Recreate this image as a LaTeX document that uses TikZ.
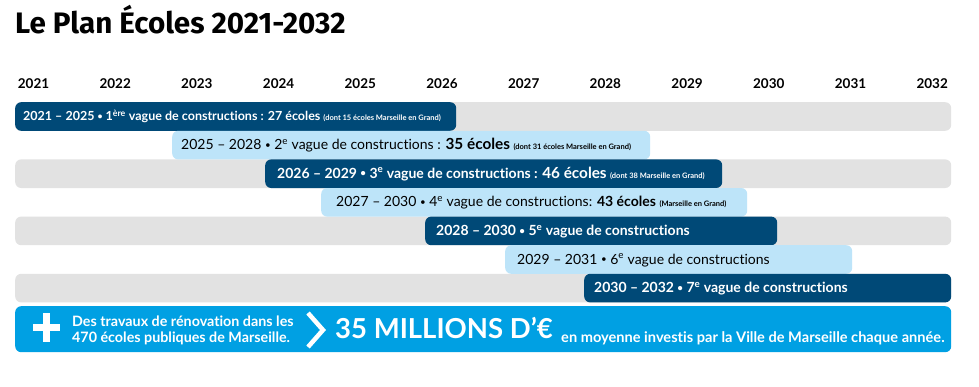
\documentclass[tikz,border=0pt]{standalone}
\usepackage{fontspec}
\usepackage{graphicx}
\setmainfont{Lato}[Ligatures=NoCommon]
\newfontfamily\titlefont{Fira Sans}
\usetikzlibrary{calc}
\definecolor{navy}{RGB}{0,73,119}
\definecolor{lightb}{RGB}{189,228,249}
\definecolor{grayrow}{RGB}{226,226,226}
\definecolor{cyanb}{RGB}{0,160,227}
\newcommand{\smallnote}[1]{{\fontsize{7.5}{8}\selectfont\bfseries #1}}
\newcommand{\bul}{\raisebox{0.09em}{\scalebox{0.7}{•}}}
\newcommand{\bignum}[1]{{\fontsize{15.3}{16}\selectfont\bfseries #1}}
\begin{document}
\begin{tikzpicture}[x=1pt,y=-1pt,
  bar/.style={rectangle, rounded corners=6pt, minimum height=28.6pt, inner sep=0pt, anchor=north west},
  grayb/.style={bar, fill=grayrow},
  darkb/.style={bar, fill=navy},
  lightbb/.style={bar, fill=lightb},
  year/.style={font=\bfseries\fontsize{13.5}{14}\selectfont, anchor=base, inner sep=0pt},
  dtext/.style={text=white, anchor=base west, inner sep=0pt, font=\bfseries\fontsize{14}{15}\selectfont},
  ltext/.style={text=black, anchor=base west, inner sep=0pt, font=\fontsize{14}{15}\selectfont},
  wtext/.style={text=white, anchor=base west, inner sep=0pt, font=\bfseries\fontsize{14.3}{15}\selectfont},
]
\useasboundingbox (0,0) rectangle (979,386);
\fill[white] (0,0) rectangle (979,386);

\node[anchor=base west, inner sep=0pt, font=\titlefont\bfseries\fontsize{29.6}{31}\selectfont] (title) at (15,33) {Le Plan Écoles 2021-2032};

\foreach \i in {0,...,11} {
  \pgfmathtruncatemacro\yr{2021+\i}
  \node[year] (y\yr) at (33.5+81.7*\i, 88) {\yr};
}

% gray rows
\node[grayb, minimum width=936pt] (g1) at (15,102) {};
\node[grayb, minimum width=936pt] (g3) at (15,159.2) {};
\node[grayb, minimum width=936pt] (g5) at (15,216.4) {};
\node[grayb, minimum width=936pt] (g7) at (15,273.6) {};

% bars
\node[darkb, minimum width=441pt] (b1) at (15,102) {};
\node[lightbb, minimum width=478pt] (b2) at (172,130.6) {};
\node[darkb, minimum width=457pt] (b3) at (265,159.2) {};
\node[lightbb, minimum width=426pt] (b4) at (321,187.8) {};
\node[darkb, minimum width=352pt] (b5) at (425,216.4) {};
\node[lightbb, minimum width=347pt] (b6) at (505,245) {};
\node[darkb, minimum width=367pt] (b7) at (584,273.6) {};

\node[dtext, font=\bfseries\fontsize{12.5}{13}\selectfont] (t1) at ($(b1.west)+(8,4)$) {2021 – 2025 \bul{} 1\textsuperscript{ère} vague de constructions : 27 écoles \smallnote{(dont 15 écoles Marseille en Grand)}};
\node[ltext] (t2) at ($(b2.west)+(9,4.5)$) {2025 – 2028 \bul{} 2\textsuperscript{e} vague de constructions : \bignum{35 écoles} \smallnote{(dont 31 écoles Marseille en Grand)}};
\node[dtext] (t3) at ($(b3.west)+(12,4.5)$) {2026 – 2029 \bul{} 3\textsuperscript{e} vague de constructions : \bignum{46 écoles} \smallnote{(dont 38 Marseille en Grand)}};
\node[ltext] (t4) at ($(b4.west)+(15,4.5)$) {2027 – 2030 \bul{} 4\textsuperscript{e} vague de constructions: \textbf{43 écoles} \smallnote{(Marseille en Grand)}};
\node[dtext] (t5) at ($(b5.west)+(11,4.5)$) {2028 – 2030 \bul{} 5\textsuperscript{e} vague de constructions};
\node[ltext] (t6) at ($(b6.west)+(12,4.5)$) {2029 – 2031 \bul{} 6\textsuperscript{e} vague de constructions};
\node[dtext] (t7) at ($(b7.west)+(10,4.5)$) {2030 – 2032 \bul{} 7\textsuperscript{e} vague de constructions};

% bottom box
\node[bar, fill=cyanb, minimum width=936pt, minimum height=46pt] (box) at (15,306) {};
\draw[white, line width=7.5pt] (33,327.5) -- (60,327.5) (46.5,313) -- (46.5,342);
\node[wtext] (r1) at (72,326) {Des travaux de rénovation dans les};
\node[wtext] (r2) at (72,342) {470 écoles publiques de Marseille.};
\draw[white, line width=4.5pt, line join=miter] (308,313) -- (323,330) -- (308,347);
\node[anchor=base west, inner sep=0pt, text=white, font=\bfseries\fontsize{27.5}{28}\selectfont] (big) at (335,338) {35 MILLIONS D’€};
\node[wtext, font=\bfseries\fontsize{14.6}{15}\selectfont] (r3) at (561,342) {en moyenne investis par la Ville de Marseille chaque année.};
\end{tikzpicture}
\end{document}
